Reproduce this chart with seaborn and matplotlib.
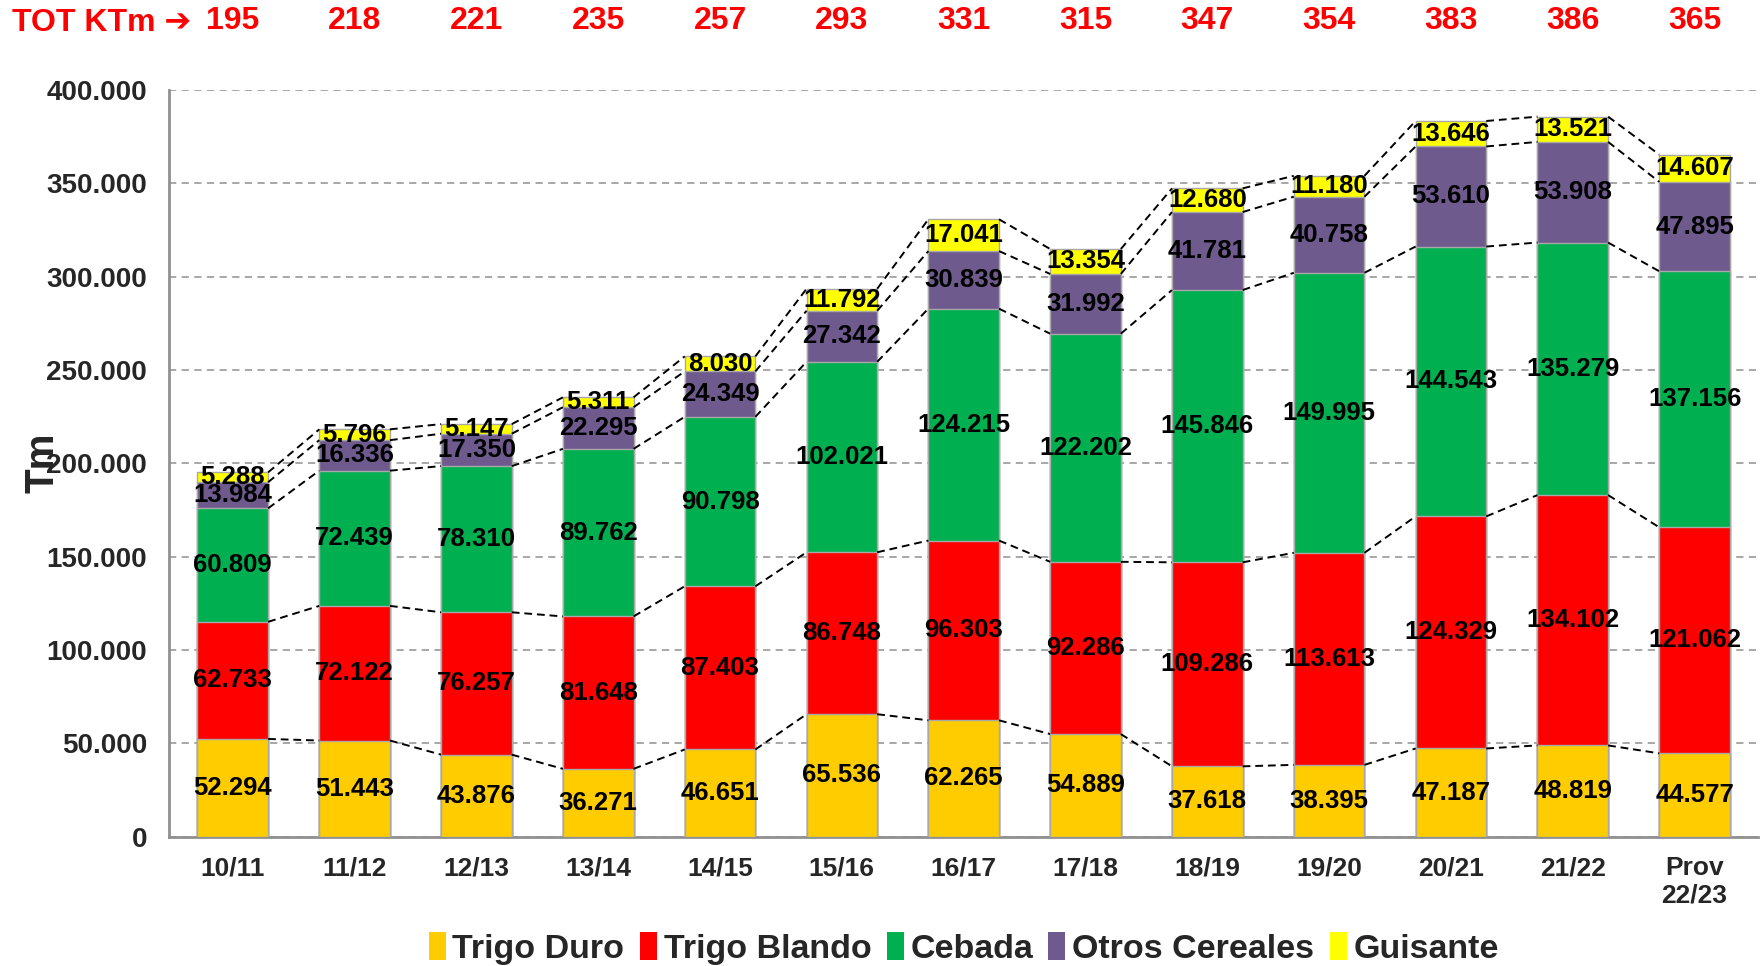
import matplotlib
matplotlib.use('Agg')
import matplotlib.pyplot as plt
from matplotlib.patches import Patch
import numpy as np
import pandas as pd
import seaborn as sns

campanas = ['10/11', '11/12', '12/13', '13/14', '14/15', '15/16', '16/17',
            '17/18', '18/19', '19/20', '20/21', '21/22', 'Prov\n22/23']
trigo_duro = [52294, 51443, 43876, 36271, 46651, 65536, 62265, 54889, 37618, 38395, 47187, 48819, 44577]
trigo_blando = [62733, 72122, 76257, 81648, 87403, 86748, 96303, 92286, 109286, 113613, 124329, 134102, 121062]
cebada = [60809, 72439, 78310, 89762, 90798, 102021, 124215, 122202, 145846, 149995, 144543, 135279, 137156]
otros = [13984, 16336, 17350, 22295, 24349, 27342, 30839, 31992, 41781, 40758, 53610, 53908, 47895]
guisante = [5288, 5796, 5147, 5311, 8030, 11792, 17041, 13354, 12680, 11180, 13646, 13521, 14607]
totales_kt = [195, 218, 221, 235, 257, 293, 331, 315, 347, 354, 383, 386, 365]

series = ['Trigo Duro', 'Trigo Blando', 'Cebada', 'Otros Cereales', 'Guisante']
colores = ['#FFCC00', '#FF0000', '#00B050', '#6F5A8E', '#FFFF00']

df = pd.DataFrame({'campana': campanas, 'Trigo Duro': trigo_duro, 'Trigo Blando': trigo_blando,
                   'Cebada': cebada, 'Otros Cereales': otros, 'Guisante': guisante})
cum = df[series].cumsum(axis=1)

sns.set_style('white')
plt.rcParams['font.family'] = ['Liberation Sans Narrow', 'Liberation Sans', 'DejaVu Sans']
plt.rcParams['font.weight'] = 'bold'

fig = plt.figure(figsize=(17.65, 9.66), dpi=100)
ax = fig.add_axes([0.096, 0.134, 0.900, 0.773])

# stacked bars: draw cumulative totals from top layer down
for s, c in reversed(list(zip(series, colores))):
    sns.barplot(x='campana', y=s, data=cum.assign(campana=campanas), color=c,
                width=0.58, edgecolor='#a8a8a8', linewidth=1, saturation=1, ax=ax, zorder=3)

w = 0.58 / 2
x = np.arange(len(campanas))
# series lines between bars
for s in series:
    tops = cum[s].values
    for i in range(len(x) - 1):
        ax.plot([x[i] + w, x[i + 1] - w], [tops[i], tops[i + 1]], color='black',
                ls=(0, (4, 2.5)), lw=1.4, zorder=4)

# data labels
for j, s in enumerate(series):
    base = cum[series[j - 1]].values if j > 0 else np.zeros(len(x))
    vals = df[s].values
    for i in range(len(x)):
        lab = f'{vals[i]:,}'.replace(',', '.')
        ax.text(x[i], base[i] + vals[i] / 2, lab, ha='center', va='center',
                fontsize=18.5, fontweight='bold', color='black', zorder=5)

ax.set_ylim(0, 400000)
ax.set_xlim(-0.52, 12.52)
ax.set_yticks(np.arange(0, 400001, 50000))
ax.set_yticklabels([f'{v:,}'.replace(',', '.') for v in range(0, 400001, 50000)],
                   fontsize=20, fontweight='bold')
ax.set_xticks(x)
ax.set_xticklabels(campanas, fontsize=19, fontweight='bold')
ax.tick_params(axis='y', length=6, color='#909090', pad=10)
ax.tick_params(axis='x', length=0, pad=14)
ax.set_xlabel('')
ax.set_ylabel('Tm', fontsize=29, fontweight='bold')
ax.yaxis.set_label_coords(-0.068, 0.5)
ax.yaxis.grid(True, color='#a0a0a0', ls=(0, (4, 3)), lw=1.3, zorder=0)
ax.set_axisbelow(True)
for sp in ['top', 'right']:
    ax.spines[sp].set_visible(False)
for sp in ['left', 'bottom']:
    ax.spines[sp].set_color('#909090')
    ax.spines[sp].set_linewidth(2)

# totals in KTm on top
trans = matplotlib.transforms.blended_transform_factory(ax.transData, fig.transFigure)
for i, t in enumerate(totales_kt):
    ax.text(x[i], 0.978, str(t), transform=trans, ha='center', va='center',
            fontsize=23, fontweight='bold', color='#FF0000')
fig.text(0.007, 0.976, 'TOT KTm \u2794', ha='left', va='center', fontsize=23,
         fontweight='bold', color='#FF0000', family=['Liberation Sans', 'DejaVu Sans'])

handles = [Patch(facecolor=c, edgecolor='none') for c in colores]
fig.legend(handles, series, loc='center', bbox_to_anchor=(0.546, 0.018), ncol=5,
           frameon=False, prop={'size': 24.5, 'weight': 'bold'}, handlelength=0.5,
           handleheight=0.9, handletextpad=0.2, columnspacing=0.45)

fig.savefig('out.png', dpi=100)
